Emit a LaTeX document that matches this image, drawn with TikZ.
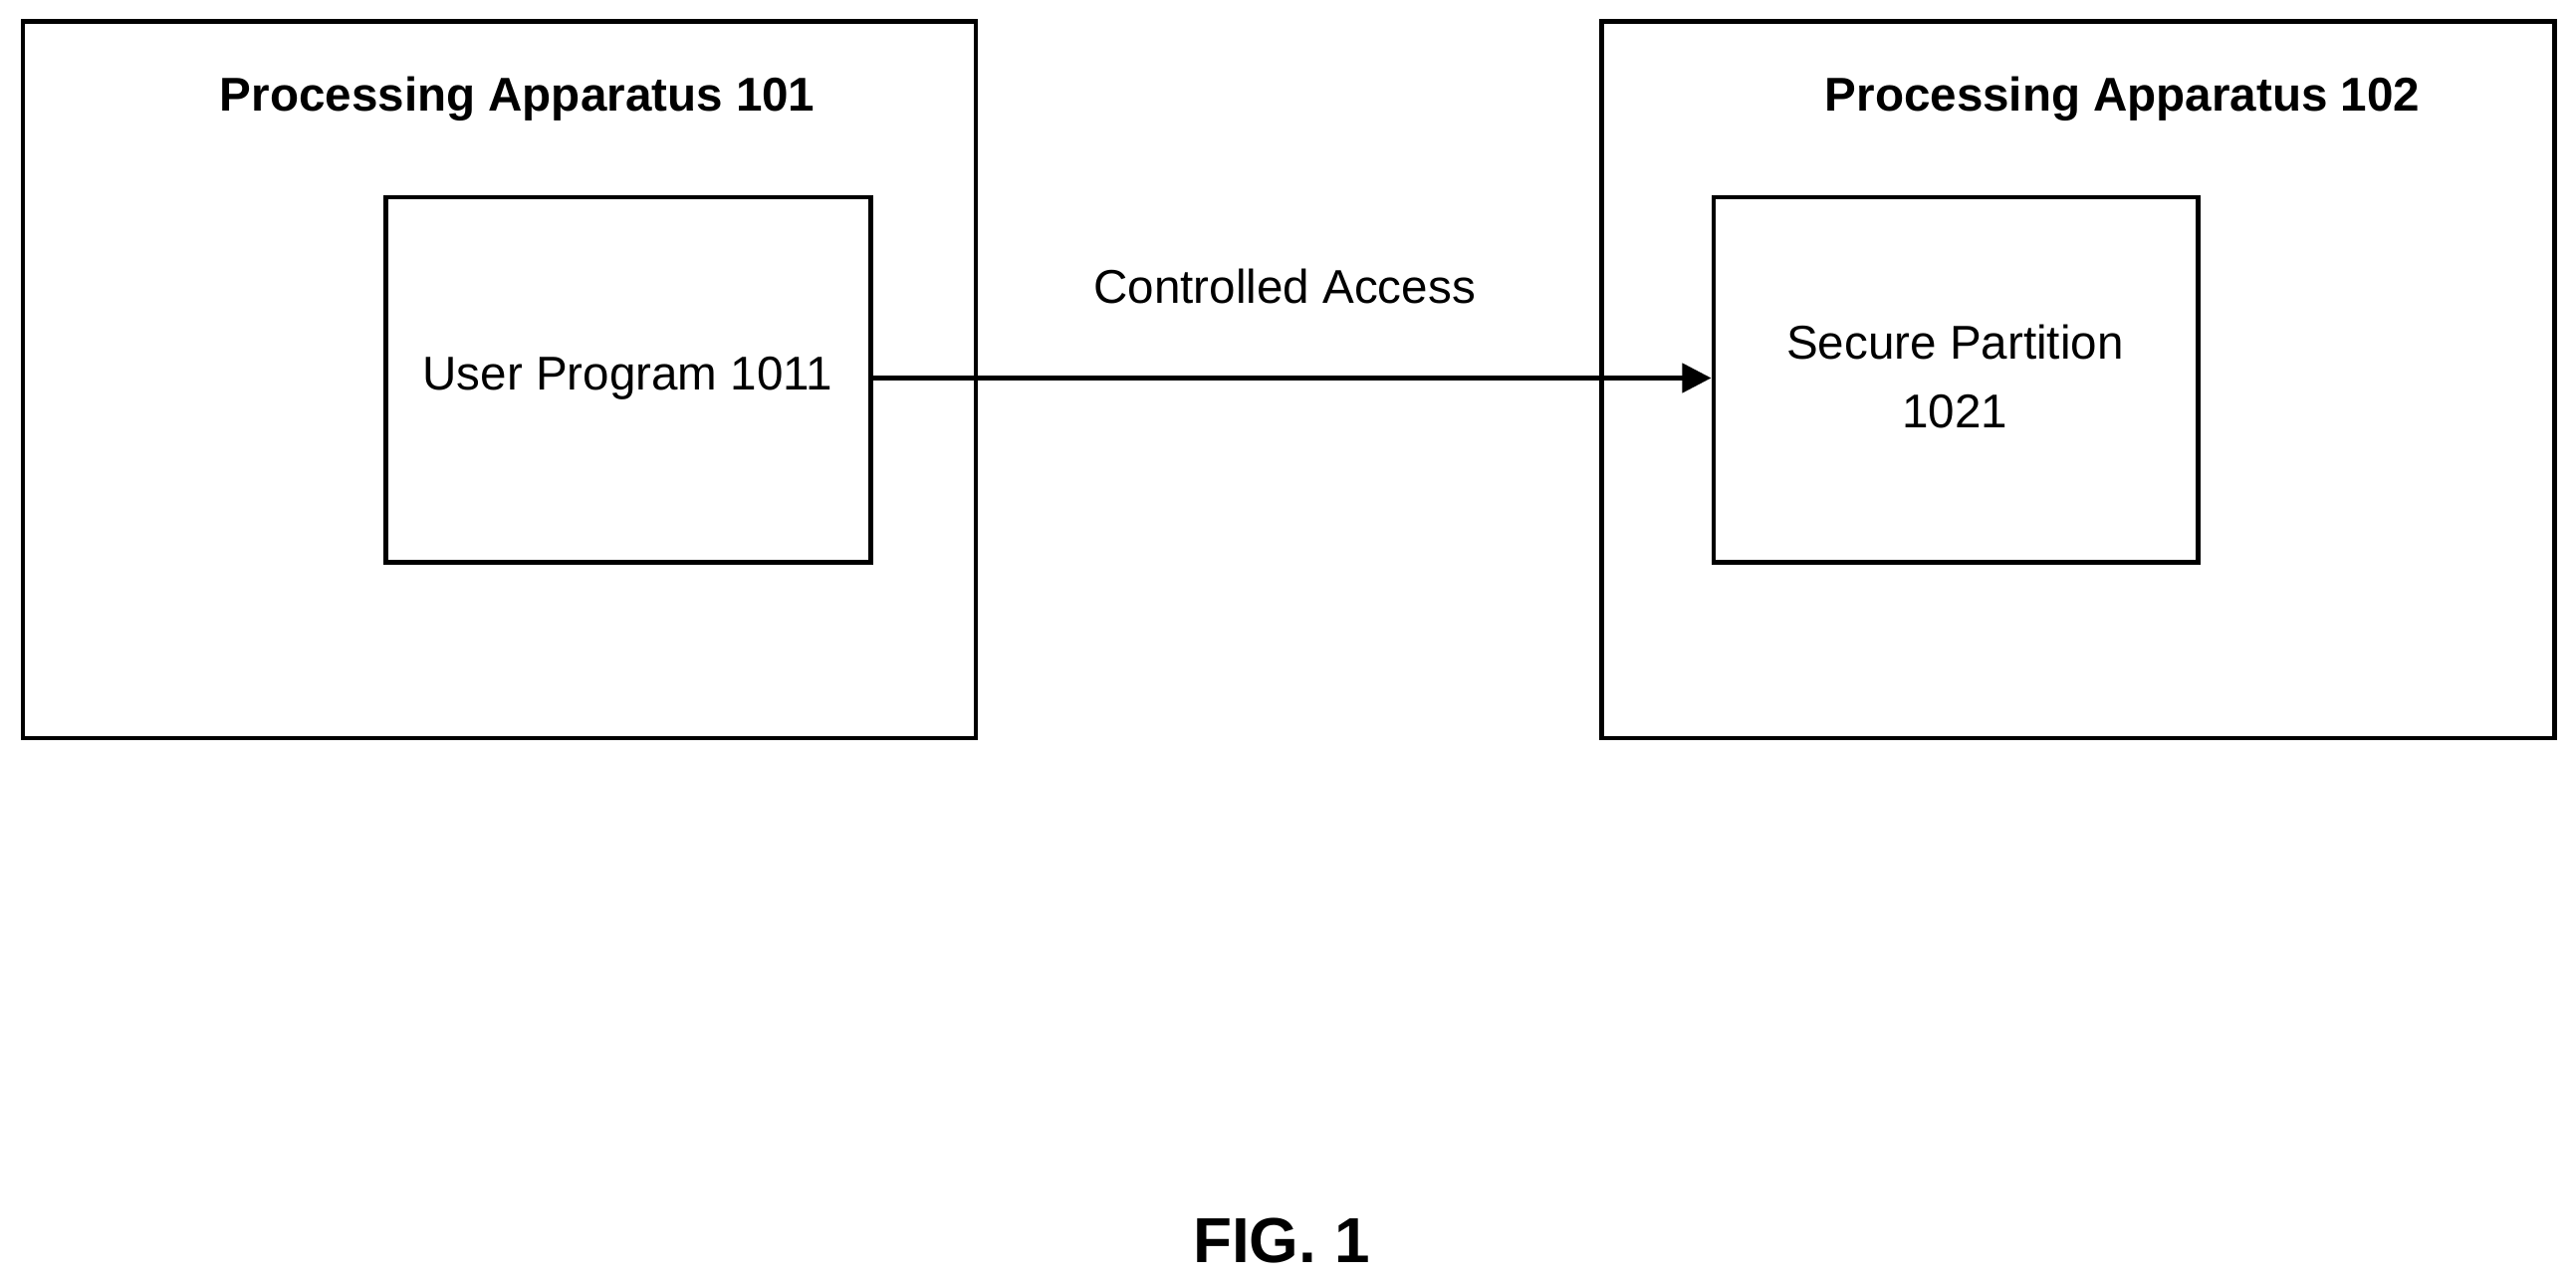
\documentclass[tikz,border=0pt]{standalone}
\usepackage{fontspec}
\setmainfont{Liberation Sans}
\usetikzlibrary{arrows.meta}
\begin{document}
\begin{tikzpicture}[x=0.01cm,y=-0.01cm,
  box/.style={draw,line width=0.75pt},
  lbl/.style={font=\fontsize{8.2pt}{9.8pt}\selectfont,align=center,inner sep=0},
  ttl/.style={font=\fontsize{8.2pt}{9.8pt}\selectfont\bfseries,inner sep=0}]
\useasboundingbox (0,0) rectangle (1568,781);
\draw[box] (14,13) rectangle (594,449);
\draw[box] (975,13) rectangle (1555,449);
\node[ttl] (t1) at (315,60) {Processing Apparatus 101};
\node[ttl] (t2) at (1292,60) {Processing Apparatus 102};
\node[box,minimum width=2.95cm,minimum height=2.22cm,inner sep=0] (up) at (382.5,231) {};
\node[lbl] (upt) at (382,230) {User Program 1011};
\node[box,minimum width=2.95cm,minimum height=2.22cm,inner sep=0] (sp) at (1190.5,231) {};
\node[lbl] (spt) at (1190,229) {Secure Partition\\[2pt]1021};
\draw[line width=0.75pt,-{Triangle[length=5pt,width=5pt]}] (up.east|-0,230) -- (sp.west|-0,230);
\node[lbl] (ca) at (782,174) {Controlled Access};
\node[font=\fontsize{11pt}{13pt}\selectfont\bfseries,inner sep=0] (fig) at (780,755) {FIG. 1};
\end{tikzpicture}
\end{document}
